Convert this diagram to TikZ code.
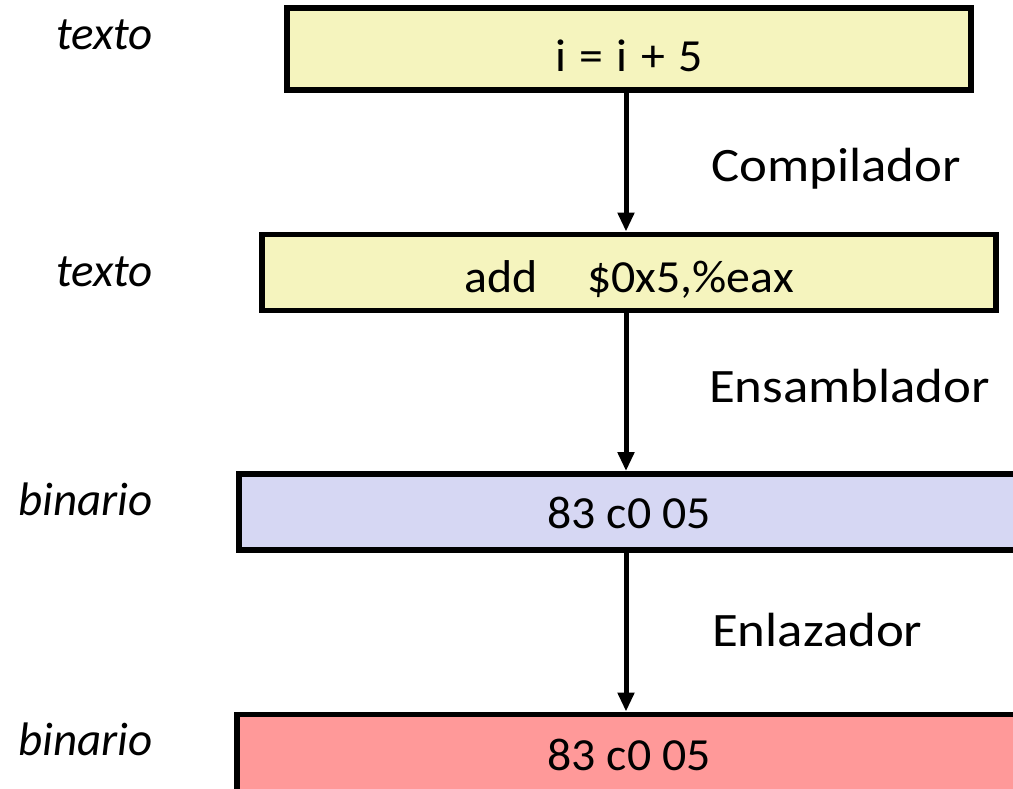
\documentclass[tikz,border=0pt]{standalone}
\usepackage{fontspec}
\setmainfont{Carlito}
\newfontfamily\stagefont[FakeStretch=1.04]{Carlito}
\newfontfamily\toolfont[FakeStretch=1.1]{Carlito}
\usetikzlibrary{arrows.meta}
\definecolor{srcfill}{RGB}{245,244,190}
\definecolor{objfill}{RGB}{214,215,243}
\definecolor{exefill}{RGB}{255,153,153}
\newcommand{\gap}{\hspace{13.5pt}}
\begin{document}
\begin{tikzpicture}[x=1pt,y=-1pt,
  stage/.style={draw=black, line width=5.8pt, inner sep=0pt, text depth=0pt,
    font=\stagefont\fontsize{46}{52}\selectfont},
  tool/.style={anchor=base west, inner sep=0pt, font=\toolfont\fontsize{48}{54}\selectfont},
  kind/.style={anchor=base east, inner sep=0pt, font=\fontsize{47}{53}\selectfont\itshape},
  flow/.style={line width=5pt, -{Triangle[width=16pt,length=19pt]}}]
\useasboundingbox (0,0) rectangle (1013,789);
\clip (0,0) rectangle (1013,789);

% the four stages of the build
\node[stage, fill=srcfill, minimum width=684pt, minimum height=82pt, text height=45pt]
  (src) at (629,49) {i\gap=\gap i\gap+\gap 5};
\node[stage, fill=srcfill, minimum width=734pt, minimum height=76pt, text height=40pt]
  (asm) at (629,272.5) {add\hspace{50pt}\$0x5,\%eax};
\node[stage, fill=objfill, minimum width=780pt, minimum height=76pt, text height=32pt]
  (obj) at (629,512) {83 c0 05};
\node[stage, fill=exefill, minimum width=784pt, minimum height=85pt, text height=26pt]
  (exe) at (629,757) {83 c0 05};

% tools between the stages
\coordinate (lane) at (626,0);
\draw[flow] (src.south -| lane) -- (asm.north -| lane);
\draw[flow] (asm.south -| lane) -- (obj.north -| lane);
\draw[flow] (obj.south -| lane) -- (exe.north -| lane);

\node[tool] (t1) at (711,182) {Compilador};
\node[tool] (t2) at (709,402) {Ensamblador};
\node[tool] (t3) at (712,646) {Enlazador};

% kind of file at each stage
\node[kind] (k1) at (153,50) {texto};
\node[kind] (k2) at (153,287) {texto};
\node[kind] (k3) at (153,515) {binario};
\node[kind] (k4) at (153,755) {binario};
\end{tikzpicture}
\end{document}
